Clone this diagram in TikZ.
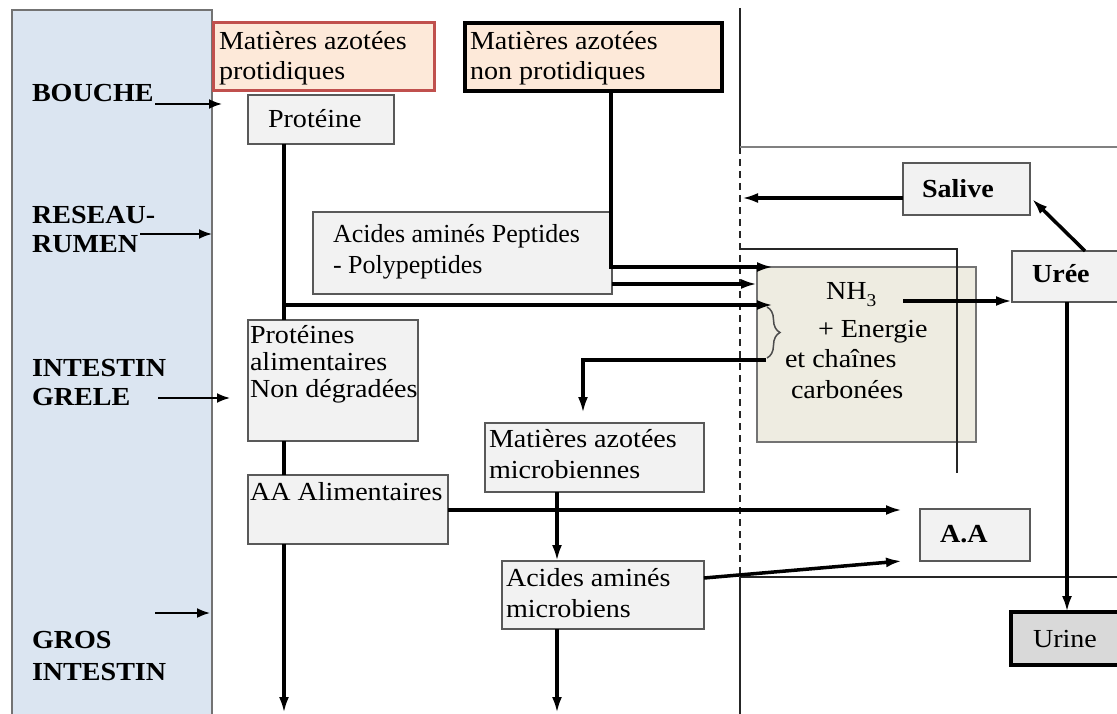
\documentclass[tikz,border=0pt]{standalone}
\usepackage{fontspec}
\setmainfont{Liberation Serif}[FakeStretch=1.08]
\newfontfamily\plainserif{Liberation Serif}
\usetikzlibrary{arrows.meta,decorations.pathreplacing,fit}
\definecolor{zoneblue}{HTML}{DBE5F1}
\definecolor{peach}{HTML}{FDE9D9}
\definecolor{redb}{HTML}{C0504D}
\definecolor{boxgray}{HTML}{F2F2F2}
\definecolor{nhfill}{HTML}{EEECE1}
\definecolor{urinefill}{HTML}{D9D9D9}
\begin{document}
\begin{tikzpicture}[x=1pt,y=-1pt,
  every node/.style={inner sep=0pt, outer sep=0pt},
  txt/.style={anchor=base west, font=\fontsize{26}{30}\selectfont},
  ptxt/.style={anchor=base west, font=\plainserif\fontsize{26}{30}\selectfont},
  lbl/.style={anchor=base west, font=\fontsize{26}{30}\selectfont\bfseries},
  zone/.style={draw=black!55, line width=1.8pt, fill=zoneblue},
  redbox/.style={draw=redb, line width=3pt, fill=peach},
  blkbox/.style={draw=black, line width=4pt, fill=peach},
  gbox/.style={draw=black!65, line width=1.6pt, fill=boxgray},
  nhbox/.style={draw=black!55, line width=1.6pt, fill=nhfill},
  urinebox/.style={draw=black, line width=4pt, fill=urinefill},
  conn/.style={line width=3.5pt, -{Latex[length=16pt,width=10pt]}},
  link/.style={line width=3.5pt},
  thinarr/.style={line width=1.8pt, -{Latex[length=13pt,width=10pt]}},
  struct/.style={line width=1.3pt, black!85},
  graystruct/.style={line width=2.2pt, black!50},
  bracelike/.style={line width=1.5pt, black!70, decorate, decoration={brace, amplitude=13pt}},
]
\useasboundingbox (0,0) rectangle (1117,714);

% zone column
\node[zone, fit={(12,10)(212,740)}] (zone) {};

% boxes
\node[redbox, fit={(213,23)(434,91)}] (mprot) {};
\node[blkbox, fit={(465,23)(722,91)}] (mnprot) {};
\node[gbox, fit={(248,95)(394,144)}] (prot) {};
\node[gbox, fit={(313,212)(612,294)}] (aap) {};
\node[gbox, fit={(248,320)(418,441)}] (pa) {};
\node[gbox, fit={(248,475)(448,544)}] (aaa) {};
\node[gbox, fit={(485,423)(704,492)}] (mam) {};
\node[gbox, fit={(502,561)(704,629)}] (aam) {};
\node[nhbox, fit={(757,267)(976,442)}] (nh) {};
\node[gbox, fit={(903,163)(1030,215)}] (salive) {};
\node[gbox, fit={(1012,251)(1135,302)}] (uree) {};
\node[gbox, fit={(920,509)(1030,561)}] (aa) {};
\node[urinebox, fit={(1011,612)(1135,665)}] (urine) {};

% structure lines
\draw[struct] (740,8) -- (740,147);
\draw[struct, dash pattern=on 7pt off 5pt] (740,147) -- (740,577);
\draw[struct] (740,577) -- (740,720);
\draw[graystruct] (740,147) -- (1125,147);
\draw[struct] (740,577) -- (1125,577);
\draw[struct] (740,249) -- (957,249) -- (957,473);

% named coordinates
\coordinate (xp) at (284,0);
\coordinate (jp) at (284,305);
\coordinate (nhA) at (773,305);
\coordinate (t1) at (611,267);
\coordinate (nhB) at (773,267);
\coordinate (y284) at (0,284);
\coordinate (bb) at (766,360);
\coordinate (tb) at (583,360);
\coordinate (mamtop) at (583,413);
\coordinate (nhout) at (903,301);
\coordinate (y301) at (0,301);
\coordinate (y198) at (0,198);
\coordinate (dashhit) at (742,198);
\coordinate (ureeout) at (1085,251);
\coordinate (salin) at (1032,199);
\coordinate (xu) at (1067,0);
\coordinate (xm) at (557,0);
\coordinate (bot1) at (284,713);
\coordinate (bot2) at (557,713);
\coordinate (y510) at (0,510);
\coordinate (aain1) at (902,510);
\coordinate (aamout) at (704,578);
\coordinate (aain2) at (902,561);
\coordinate (xn) at (611,0);

% left arrows
\coordinate (b1) at (155,104);  \coordinate (b2) at (222,104);
\coordinate (r1) at (140,234);  \coordinate (r2) at (212,234);
\coordinate (i1) at (158,398);  \coordinate (i2) at (230,398);
\coordinate (g1) at (155,613);  \coordinate (g2) at (210,613);
\draw[thinarr] (b1) -- (b2);
\draw[thinarr] (r1) -- (r2);
\draw[thinarr] (i1) -- (i2);
\draw[thinarr] (g1) -- (g2);

% connectors
\draw[link] (prot.south -| xp) -- (pa.north -| xp);
\draw[conn] (jp) -- (nhA);
\draw[link] (pa.south -| xp) -- (aaa.north -| xp);
\draw[conn] (aaa.south -| xp) -- (bot1);
\draw[conn] (mnprot.south -| xn) -- (t1) -- (nhB);
\draw[conn] (aap.east |- y284) -- (nh.west |- y284);
\draw[bracelike] (767,307) -- (767,358);
\draw[conn] (bb) -- (tb) -- (mamtop);
\draw[conn] (nhout) -- (uree.west |- y301);
\draw[conn] (salive.west |- y198) -- (dashhit);
\draw[conn] (ureeout) -- (salin);
\draw[conn] (uree.south -| xu) -- (urine.north -| xu);
\draw[conn] (mam.south -| xm) -- (aam.north -| xm);
\draw[conn] (aam.south -| xm) -- (bot2);
\draw[conn] (aaa.east |- y510) -- (aain1);
\draw[conn] (aamout) -- (aain2);

% zone labels
\node[lbl] (lb1) at (32,102) {BOUCHE};
\node[lbl] (lb2) at (32,224) {RESEAU-};
\node[lbl] (lb3) at (32,253) {RUMEN};
\node[lbl] (lb4) at (32,376) {INTESTIN};
\node[lbl] (lb5) at (32,405) {GRELE};
\node[lbl] (lb6) at (32,648) {GROS};
\node[lbl] (lb7) at (32,680) {INTESTIN};

% box texts
\node[txt] (tm1) at (219,50) {Matières azotées};
\node[txt] (tm2) at (219,80) {protidiques};
\node[txt] (tn1) at (470,50) {Matières azotées};
\node[txt] (tn2) at (470,80) {non protidiques};
\node[txt] (tp) at (268,128) {Protéine};
\node[ptxt] (ta1) at (333,243) {Acides aminés Peptides};
\node[ptxt] (ta2) at (333,273) {- Polypeptides};
\node[txt] (tpa1) at (250,343) {Protéines};
\node[txt] (tpa2) at (250,370) {alimentaires};
\node[txt] (tpa3) at (250,397) {Non dégradées};
\node[txt] (taa) at (250,500) {AA Alimentaires};
\node[txt] (tmm1) at (489,447) {Matières azotées};
\node[txt] (tmm2) at (489,478) {microbiennes};
\node[txt] (tam1) at (506,586) {Acides aminés};
\node[txt] (tam2) at (506,617) {microbiens};
\node[txt] (tnh1) at (826,299) {NH\raisebox{-7pt}{\fontsize{18}{18}\selectfont 3}};
\node[txt] (tnh2) at (818,337) {+ Energie};
\node[txt] (tnh3) at (785,367) {et chaînes};
\node[txt] (tnh4) at (791,398) {carbonées};
\node[lbl] (tsal) at (922,198) {Salive};
\node[lbl] (tur) at (1032,283) {Urée};
\node[lbl] (taaa) at (940,542) {A.A};
\node[txt] (turi) at (1033,647) {Urine};
\end{tikzpicture}
\end{document}
